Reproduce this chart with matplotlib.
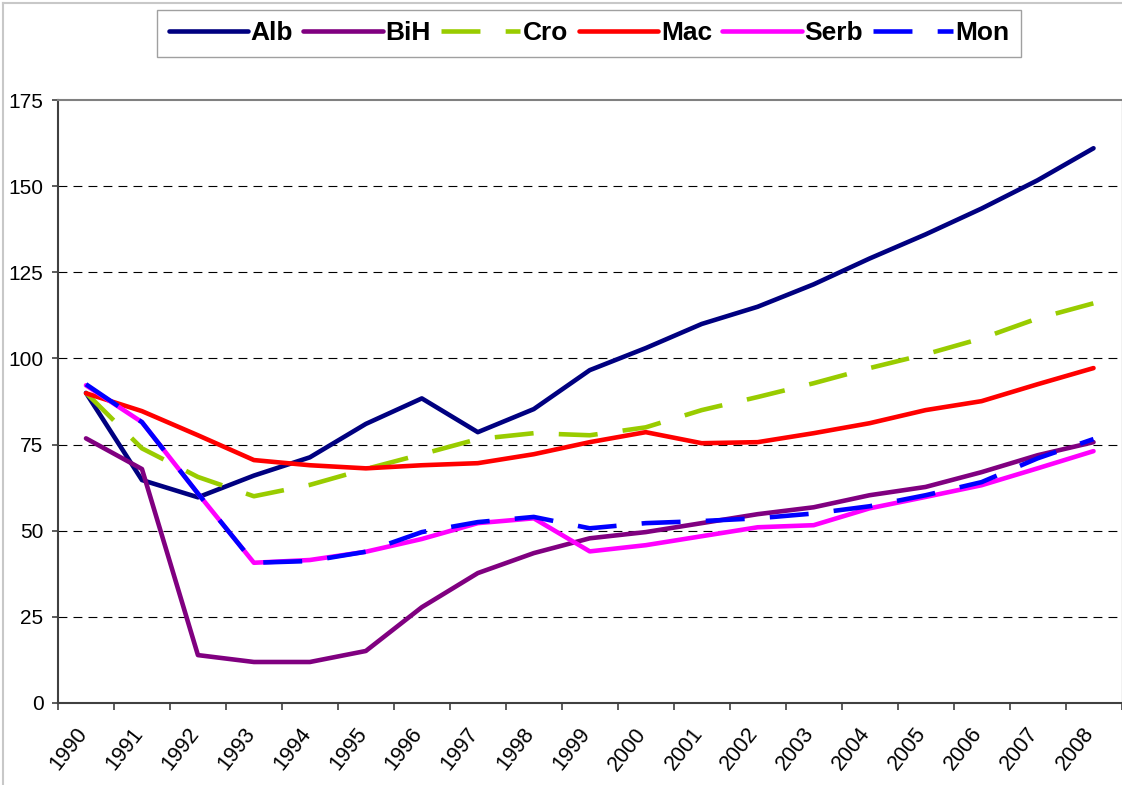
import numpy as np
import matplotlib
matplotlib.use('Agg')
import matplotlib.pyplot as plt
import matplotlib.transforms as mtransforms
from matplotlib.lines import Line2D

years = [str(y) for y in range(1990, 2009)]

alb = [90, 64.7, 59.7, 66, 71.3, 81, 88.4, 78.6, 85.3, 96.6, 103, 110, 115,
       121.5, 129, 136, 143.5, 151.7, 161]
bih = [76.8, 67.9, 13.9, 11.9, 11.9, 15.1, 27.8, 37.7, 43.5, 47.8, 49.6, 52.2,
       54.8, 56.8, 60.3, 62.7, 67, 71.9, 75.7]
cro = [90, 73.9, 65.6, 60, 63.3, 67.9, 72.2, 76.6, 78.3, 77.7, 80, 85, 88.8,
       92.8, 97.2, 101.2, 105.8, 111.6, 116]
mac = [89.9, 84.7, 77.7, 70.5, 69, 68.1, 69, 69.6, 72.2, 75.7, 78.6, 75.4,
       75.7, 78.3, 81.2, 85, 87.6, 92.5, 97.2]
serb = [92.2, 81.5, 60.8, 40.7, 41.5, 43.9, 47.6, 52.2, 53.6, 44, 45.8, 48.4,
        51, 51.6, 56.5, 59.8, 63.2, 68.1, 73.1]
mon = [92.5, 81.5, 60.8, 40.7, 41.2, 43.9, 49.6, 52.5, 54, 50.7, 52.2, 52.8,
       53.6, 55, 57.1, 60.3, 64.1, 71, 76.6]

plt.rcParams['font.family'] = ['Liberation Sans', 'DejaVu Sans']

fig = plt.figure(figsize=(11.22, 7.85), dpi=100)
ax = fig.add_axes([58 / 1122, 1 - 703 / 785, 1 - 58 / 1122 - 0.5 / 1122, (703 - 100) / 785])

x = np.arange(len(years)) + 0.5
lw = 3.3
dash = (8.5, 5.5)
ax.plot(x, alb, color='#000080', lw=lw, label='Alb', solid_capstyle='round', solid_joinstyle='round', zorder=3)
ax.plot(x, bih, color='#800080', lw=lw, label='BiH', solid_capstyle='round', solid_joinstyle='round', zorder=3)
ax.plot(x, cro, color='#99CC00', lw=lw, label='Cro', dashes=dash, dash_capstyle='butt', zorder=3)
ax.plot(x, mac, color='#FF0000', lw=lw, label='Mac', solid_capstyle='round', solid_joinstyle='round', zorder=3)
ax.plot(x, serb, color='#FF00FF', lw=lw, label='Serb', solid_capstyle='round', solid_joinstyle='round', zorder=3)
ax.plot(x, mon, color='#0000FF', lw=lw, label='Mon', dashes=dash, dash_capstyle='butt', zorder=4)

ax.set_xlim(0, len(years))
ax.set_ylim(0, 175)
ax.set_yticks(np.arange(0, 176, 25))
ax.tick_params(axis='y', labelsize=15, length=4.5, width=1.2, color='#404040', pad=6)

ax.set_xticks(x)
ax.set_xticklabels(years, rotation=52, ha='right', va='center', rotation_mode='anchor', fontsize=15.5)
ax.tick_params(axis='x', which='major', length=0, pad=19.5)
shift = mtransforms.ScaledTranslation(-3 / 100, 0, fig.dpi_scale_trans)
for lab in ax.get_xticklabels():
    lab.set_transform(lab.get_transform() + shift)
ax.set_xticks(np.arange(len(years) + 1), minor=True)
ax.tick_params(axis='x', which='minor', length=5, width=1.2, color='#404040', direction='out')

for v in [25, 50, 75, 100, 125, 150]:
    ax.axhline(v, color='black', lw=0.8, dashes=(8, 5.5), zorder=1)

ax.spines['left'].set_color('#404040')
ax.spines['left'].set_linewidth(1.5)
ax.spines['bottom'].set_color('#404040')
ax.spines['bottom'].set_linewidth(1.5)
ax.spines['top'].set_color('#808080')
ax.spines['top'].set_linewidth(1.5)
ax.spines['right'].set_color('#c0c0c0')
ax.spines['right'].set_linewidth(1.0)

# outer chart-area border (cropped at right and bottom)
fig.add_artist(Line2D([2.5 / 1122, 2.5 / 1122], [0, 1 - 3 / 785], color='#c8c8c8', lw=1.5))
fig.add_artist(Line2D([2.5 / 1122, 1], [1 - 3 / 785, 1 - 3 / 785], color='#c8c8c8', lw=1.5))

leg = fig.legend(loc='center', bbox_to_anchor=(589 / 1122, 1 - 33.5 / 785), ncol=6,
                 prop={'weight': 'bold', 'size': 19}, handlelength=3.0, handletextpad=0.1,
                 columnspacing=0.4, borderpad=0.45, fancybox=False, framealpha=1)
leg.get_frame().set_edgecolor('#a0a0a0')
leg.get_frame().set_linewidth(1.0)

fig.savefig('out.png', dpi=100)
